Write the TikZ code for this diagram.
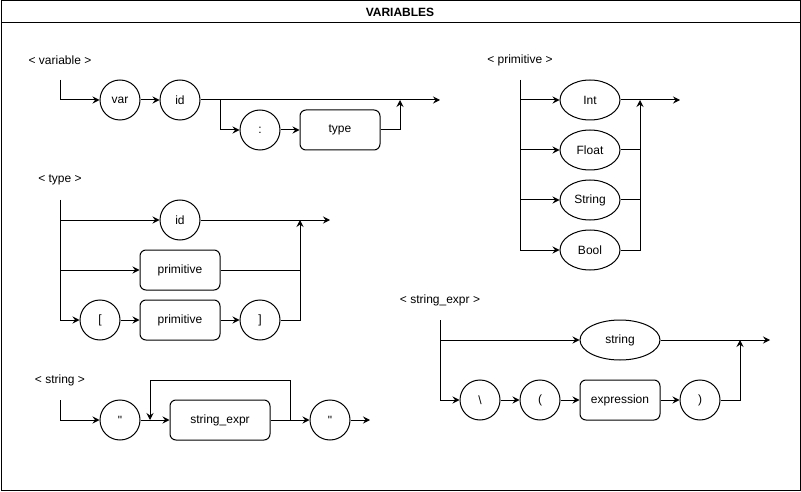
\documentclass[tikz,border=0pt]{standalone}
\usepackage{fontspec}
\setmainfont{Liberation Sans}[Ligatures=TeXOff]
\usetikzlibrary{arrows.meta,shapes.geometric}
\begin{document}
\begin{tikzpicture}[x=1pt,y=-1pt,line width=1pt,
  every node/.style={font=\fontsize{12}{14}\selectfont},
  term/.style={circle,draw,minimum size=40pt,inner sep=0pt},
  nterm/.style={rectangle,draw,rounded corners=6pt,minimum width=80pt,minimum height=40pt,inner sep=0pt},
  ell/.style={ellipse,draw,minimum width=60pt,minimum height=40pt,inner sep=0pt},
  lbl/.style={inner sep=0pt},
  arr/.style={-{Stealth[length=7pt,width=7pt,inset=2.5pt]}}]
\useasboundingbox (0,0) rectangle (801,492);
\draw (1,1) rectangle (800,490);
\draw (1,23) -- (800,23);
\node[lbl,font=\fontsize{12}{14}\selectfont\bfseries] (title) at (400,12) {VARIABLES};

% variable
\node[lbl] (lvar) at (60,60) {< variable >};
\coordinate (v0) at (60,80);
\node[term] (var) at (120,100) {var};
\node[term] (id1) at (180,100) {id};
\node[term] (colon) at (260,130) {:};
\node[nterm] (type) at (340,130) {type};
\coordinate (vb) at (220,100);
\coordinate (vj) at (400,100);
\coordinate (vend) at (440,100);
\draw[arr] (v0) |- (var);
\draw[arr] (var) -- (id1);
\draw[arr] (id1) -- (vend);
\draw[arr] (vb) |- (colon);
\draw[arr] (colon) -- (type);
\draw[arr] (type) -| (vj);

% type
\node[lbl] (ltype) at (60,180) {< type >};
\coordinate (t0) at (60,200);
\coordinate (tb1) at (60,220);
\coordinate (tb2) at (60,270);
\node[term] (tid) at (180,220) {id};
\node[nterm] (prim1) at (180,270) {primitive};
\node[term] (lb) at (100,320) {[};
\node[nterm] (prim2) at (180,320) {primitive};
\node[term] (rb) at (260,320) {]};
\coordinate (tj) at (300,220);
\coordinate (tj2) at (300,270);
\coordinate (tend) at (330,220);
\draw[arr] (t0) |- (lb);
\draw[arr] (tb1) -- (tid);
\draw[arr] (tb2) -- (prim1);
\draw[arr] (tid) -- (tend);
\draw (prim1) -- (tj2);
\draw[arr] (lb) -- (prim2);
\draw[arr] (prim2) -- (rb);
\draw[arr] (rb) -| (tj);

% string
\node[lbl] (lstr) at (60,380) {< string >};
\coordinate (s0) at (60,400);
\node[term] (q1) at (120,420) {"};
\node[nterm,minimum width=100pt] (se) at (220,420) {string\_expr};
\node[term] (q2) at (330,420) {"};
\coordinate (sl1) at (290,420);
\coordinate (sl2) at (150,420);
\coordinate (send) at (370,420);
\draw[arr] (s0) |- (q1);
\draw[arr] (q1) -- (se);
\draw[arr] (se) -- (q2);
\draw[arr] (q2) -- (send);
\draw[arr] (sl1) -- ++(0,-40) -| (sl2);

% primitive
\node[lbl] (lprim) at (520,60) {< primitive >};
\coordinate (p0) at (520,80);
\coordinate (pb1) at (520,100);
\coordinate (pb2) at (520,150);
\coordinate (pb3) at (520,200);
\node[ell] (int) at (590,100) {Int};
\node[ell] (float) at (590,150) {Float};
\node[ell] (string) at (590,200) {String};
\node[ell] (bool) at (590,250) {Bool};
\coordinate (pj) at (640,100);
\coordinate (pj2) at (640,150);
\coordinate (pj3) at (640,200);
\coordinate (pend) at (680,100);
\draw[arr] (p0) |- (bool);
\draw[arr] (pb1) -- (int);
\draw[arr] (pb2) -- (float);
\draw[arr] (pb3) -- (string);
\draw[arr] (int) -- (pend);
\draw (float) -- (pj2);
\draw (string) -- (pj3);
\draw[arr] (bool) -| (pj);

% string_expr
\node[lbl] (lse) at (440,300) {< string\_expr >};
\coordinate (e0) at (440,320);
\coordinate (eb1) at (440,340);
\node[ell,minimum width=80pt] (estr) at (620,340) {string};
\node[term] (bs) at (480,400) {\textbackslash};
\node[term] (lp) at (540,400) {(};
\node[nterm] (expr) at (620,400) {expression};
\node[term] (rp) at (700,400) {)};
\coordinate (ej) at (740,340);
\coordinate (eend) at (770,340);
\draw[arr] (e0) |- (bs);
\draw[arr] (eb1) -- (estr);
\draw[arr] (estr) -- (eend);
\draw[arr] (bs) -- (lp);
\draw[arr] (lp) -- (expr);
\draw[arr] (expr) -- (rp);
\draw[arr] (rp) -| (ej);
\end{tikzpicture}
\end{document}
